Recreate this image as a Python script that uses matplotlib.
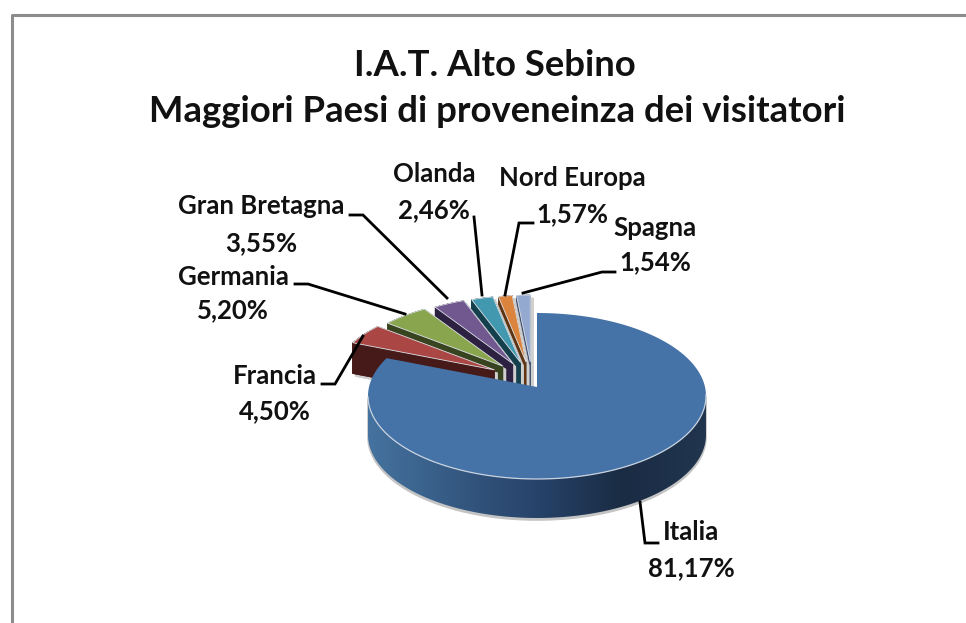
import numpy as np
import matplotlib
matplotlib.use("Agg")
import matplotlib.pyplot as plt
from matplotlib.colors import LinearSegmentedColormap
from matplotlib.patches import Polygon

# Values, Italia first, clockwise from twelve o'clock
countries = ["Italia", "Francia", "Germania", "Gran Bretagna", "Olanda", "Nord Europa", "Spagna"]
shares = [81.17, 4.50, 5.20, 3.55, 2.46, 1.57, 1.54]
share_labels = ["81,17%", "4,50%", "5,20%", "3,55%", "2,46%", "1,57%", "1,54%"]
title_lines = ["I.A.T. Alto Sebino", "Maggiori Paesi di proveneinza dei visitatori"]

top_colors = ["#4572a7", "#aa4643", "#89a54e", "#71588f", "#4198af", "#db843d", "#93a9cf"]
side_colors = ["#1b2d46", "#451a18", "#38441f", "#2c2140", "#143f4c", "#5e3413", "#3f4e6d"]

# label centre (x, name y, value y) and leader polyline, in pixels
label_pos = [(691, 532, 568), (275, 376, 411), (233, 277, 310), (261, 206, 243),
             (434, 174, 210), (572, 178, 214), (655, 228, 262)]
leaders = [
    [(640, 502), (645, 543), (658, 543)],
    [(322, 384), (335, 384), (363, 336)],
    [(295, 284), (308, 284), (405, 314)],
    [(350, 215), (363, 215), (447, 298)],
    [(474, 217), (482, 295)],
    [(533, 223), (519, 223), (505, 295)],
    [(615, 272), (602, 272), (523, 293)],
]

plt.rcParams["font.family"] = ["Lato", "DejaVu Sans"]

fig = plt.figure(figsize=(9.66, 6.23), dpi=100)
ax = fig.add_axes([0, 0, 1, 1])
ax.set_xlim(0, 966)
ax.set_ylim(623, 0)
ax.axis("off")

# chart border, only top and left fall inside the crop
ax.plot([11.5, 11.5, 966], [623, 15, 15], color="#8c8c8c", lw=2.2, solid_capstyle="butt")


def rim_point(apex, angle, rx, ry, cy_off):
    # ray from the apex in the tilted plane, cut with the rim ellipse
    dx, dy = np.sin(angle), -0.47 * np.cos(angle)
    a = (dx / rx) ** 2 + (dy / ry) ** 2
    b = -2 * cy_off * dy / ry ** 2
    c = (cy_off / ry) ** 2 - 1
    t = (-b + np.sqrt(b * b - 4 * a * c)) / (2 * a)
    return apex[0] + t * dx, apex[1] + t * dy


def slice_outline(apex, a0, a1, rx, ry, cy_off):
    angles = np.linspace(a0, a1, 160)
    rim = np.array([rim_point(apex, a, rx, ry, cy_off) for a in angles])
    return np.vstack([[apex], rim])


def add_solid(pts, depth, color, z, shift=(0, 0)):
    # sweep the top face straight down, a face per outline segment
    off = np.array(shift, dtype=float)
    closed = np.vstack([pts, pts[:1]])
    ax.add_patch(Polygon(pts + off + [0, depth], closed=True, fc=color, ec="none", zorder=z))
    for p, q in zip(closed[:-1], closed[1:]):
        quad = np.array([p, q, q + [0, depth], p + [0, depth]]) + off
        ax.add_patch(Polygon(quad, closed=True, fc=color, ec=color, lw=0.3, zorder=z))


edges = np.radians(np.concatenate([[0], np.cumsum(shares)]) * 3.6)
mids = (edges[:-1] + edges[1:]) / 2

# small slices are pulled out, painted from the back round to the front
depth_small = 31
for i in range(len(shares) - 1, 0, -1):
    apex = (532.5 + 44 * np.sin(mids[i]), 378 - 16 * np.cos(mids[i]))
    rx = 145 + 18 * abs(np.sin(mids[i]))
    pts = slice_outline(apex, edges[i], edges[i + 1], rx, 75, 8)
    z = 2 + (7 - i)
    add_solid(pts, depth_small, "#cfcfcf", z, shift=(3, 3))
    add_solid(pts, depth_small, side_colors[i], z)
    ax.add_patch(Polygon(pts, closed=True, fc=top_colors[i], ec="#dfe3ea", lw=0.6, zorder=z))

# Italia
apex = (537, 387)
pts = slice_outline(apex, edges[0], edges[1], 169, 83, 9)
rim = pts[1:]
right_i = np.argmax(rim[:, 0])
left_i = np.argmin(rim[:, 0])
front = rim[right_i:left_i + 1]
depth = 39
wall = np.vstack([front, front[::-1] + [0, depth]])
ax.add_patch(Polygon(wall + [0, 2], closed=True, fc="#c4c4c4", ec="#c4c4c4", lw=1.2, zorder=10))
wall_patch = Polygon(wall, closed=True, fc="none", ec="none", zorder=11)
ax.add_patch(wall_patch)
cmap = LinearSegmentedColormap.from_list(
    "wall", [(0, "#45739f"), (0.35, "#2f5078"), (0.5, "#27436a"), (0.75, "#1a2c44"), (1, "#21354f")])
grad = ax.imshow(np.linspace(0, 1, 256)[None, :], cmap=cmap, aspect="auto",
                 extent=[front[:, 0].min(), front[:, 0].max(), 560, 380], zorder=11)
grad.set_clip_path(wall_patch)
ax.set_xlim(0, 966)
ax.set_ylim(623, 0)
ax.add_patch(Polygon(pts, closed=True, fc=top_colors[0], ec="none", zorder=12))
ax.plot(front[:, 0], front[:, 1], color="#c9d3e0", lw=0.9, zorder=13)

# leaders and labels
for line in leaders:
    xs, ys = zip(*line)
    ax.plot(xs, ys, color="black", lw=2.0, zorder=20, solid_joinstyle="miter")

for name, val, (x, y0, y1) in zip(countries, share_labels, label_pos):
    ax.text(x, y0, name, ha="center", va="center", fontsize=18.5, fontweight="bold", color="#111111", zorder=21)
    ax.text(x, y1, val, ha="center", va="center", fontsize=18.5, fontweight="bold", color="#111111", zorder=21)

ax.text(495, 65, title_lines[0], ha="center", va="center", fontsize=26.3, fontweight="bold", color="#111111")
ax.text(497, 112, title_lines[1], ha="center", va="center", fontsize=26.3, fontweight="bold", color="#111111")

fig.savefig("out.png", dpi=100, facecolor="white")
